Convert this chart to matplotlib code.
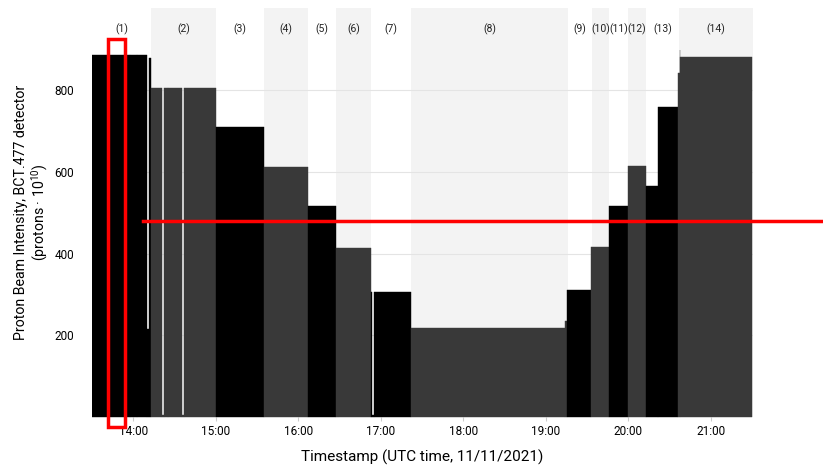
import matplotlib
matplotlib.use("Agg")
import matplotlib.pyplot as plt
import matplotlib.patches as mpatches
from matplotlib.lines import Line2D

plt.rcParams['font.family'] = ['Roboto', 'DejaVu Sans']
plt.rcParams['mathtext.default'] = 'regular'

# ---- data ----
# beam intensity as a step function: segment start time, level, fill tone
seg_start = ["13:30:00", "13:57:30", "13:57:50", "14:02:30", "14:02:50", "14:09:45",
             "14:11:30", "14:12:40", "14:21:10", "14:22:15", "14:25:10", "14:25:30",
             "14:35:20", "14:36:35", "15:00:00", "15:34:55", "16:06:55", "16:27:20",
             "16:28:40", "16:29:10", "16:52:40", "16:53:50", "16:54:50", "17:21:50",
             "19:14:10", "19:15:20", "19:32:40", "19:46:00", "19:59:25", "20:12:30",
             "20:21:40", "20:36:10", "20:37:20", "20:37:40"]
seg_end_last = "21:29:50"
seg_level = [885, 215, 885, 215, 885, 215,
             880, 805, 5, 805, 5, 805,
             5, 805, 710, 612, 516, 413,
             218, 413, 306, 5, 306, 217,
             235, 311, 415, 517, 614, 565,
             759, 842, 898, 881]
seg_tone = ["k", "k", "k", "k", "k", "k",
            "k", "g", "g", "g", "g", "g",
            "g", "g", "k", "g", "k", "g",
            "g", "g", "k", "k", "k", "g",
            "g", "k", "g", "k", "g", "k",
            "k", "g", "g", "g"]

# measurement phases (1)..(14)
phase_edges = ["13:30:00", "14:12:45", "15:00:00", "15:35:00", "16:07:00", "16:27:20",
               "16:52:45", "17:21:50", "19:16:00", "19:33:30", "19:45:50", "19:59:40",
               "20:12:45", "20:36:45", "21:30:35"]
phase_labels = ["(%d)" % i for i in range(1, 15)]

hour_ticks = [14, 15, 16, 17, 18, 19, 20, 21]
y_ticks = [200, 400, 600, 800]


def hours(s):
    h, m, sec = s.split(":")
    return int(h) + int(m) / 60 + float(sec) / 3600


tone_colors = {"k": "#000000", "g": "#393939"}

fig = plt.figure(figsize=(8.23, 4.67), dpi=100)
ax = fig.add_axes([0.1118, 0.1071, 0.8031, 0.8747])

# phase shading
edges = [hours(e) for e in phase_edges]
for i in range(len(edges) - 1):
    if i % 2 == 1:
        ax.axvspan(edges[i], edges[i + 1], color="#f3f3f3", lw=0, zorder=0)
    ax.text((edges[i] + edges[i + 1]) / 2, 950, phase_labels[i],
            ha="center", va="center", fontsize=7.5, color="#222222", zorder=5)

for y in y_ticks:
    ax.axhline(y, color="#e4e4e4", lw=0.8, zorder=1)

# beam intensity
starts = [hours(s) for s in seg_start]
ends = starts[1:] + [hours(seg_end_last)]
for t0, t1, lev, tone in zip(starts, ends, seg_level, seg_tone):
    c = tone_colors[tone]
    ax.fill_between([t0, t1], 0, lev, color=c, lw=0.3, edgecolor=c, zorder=2)

ax.set_xlim(hours(phase_edges[0]), hours(phase_edges[-1]))
ax.set_ylim(0, 1000)
ax.set_xticks(hour_ticks)
ax.set_xticklabels(["%d:00" % h for h in hour_ticks])
ax.set_yticks(y_ticks)
ax.tick_params(axis="x", length=3, color="#cccccc", labelsize=8.5, pad=3)
ax.tick_params(axis="y", length=0, labelsize=8.5, pad=13)
for sp in ax.spines.values():
    sp.set_visible(False)

ax.set_xlabel("Timestamp (UTC time, 11/11/2021)", fontsize=11, labelpad=8)
ax.set_ylabel("Proton Beam Intensity, BCT.477 detector\n(protons · 10$^{10}$)",
              fontsize=10.2, labelpad=3, linespacing=1.1)

# red highlight marks drawn over the figure
fig.add_artist(mpatches.Rectangle((0.1315, 0.0867), 0.0201, 0.8298, transform=fig.transFigure,
                                  fill=False, edgecolor="#ff0000", lw=2.5, zorder=10))
fig.add_artist(Line2D([0.1742, 1.0], [0.5268, 0.5268], transform=fig.transFigure,
                      color="#ff0000", lw=2.5, zorder=10))

fig.savefig("out.png", dpi=100)
